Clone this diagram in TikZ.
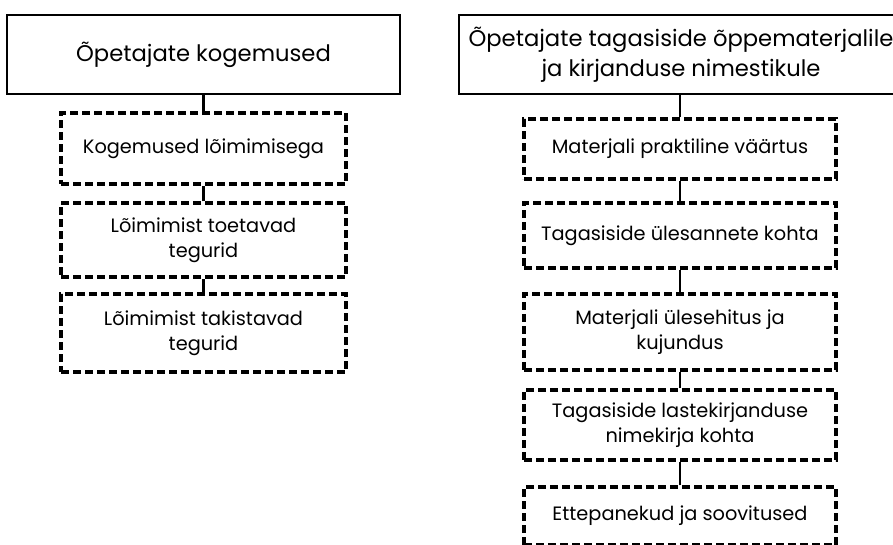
\documentclass[tikz,border=0pt]{standalone}
\usepackage{fontspec}
\setmainfont{Poppins}
\begin{document}
\begin{tikzpicture}[x=0.75pt,y=-0.75pt,
  topbox/.style={draw=black, line width=1.2pt, inner sep=0pt, align=center, font=\fontsize{17}{22.5}\selectfont},
  subbox/.style={draw=black, line width=2.6pt, dash pattern=on 6pt off 3pt, inner sep=0pt, align=center, font=\fontsize{14.5}{19}\selectfont},
  link/.style={draw=black, line width=1.8pt}]
\clip (0,0) rectangle (893,544);
\fill[white] (0,0) rectangle (893,544);
% left column
\node[topbox, minimum width=294.75pt, minimum height=59.25pt] (LT) at (203.5,54.5) {Õpetajate kogemused};
\node[subbox, minimum width=213.75pt, minimum height=53.25pt] (L1) at (203.5,148.5) {Kogemused lõimimisega};
\node[subbox, minimum width=213.75pt, minimum height=55.5pt] (L2) at (203.5,240) {Lõimimist toetavad\\tegurid};
\node[subbox, minimum width=213.75pt, minimum height=58.5pt] (L3) at (203.5,333) {Lõimimist takistavad\\tegurid};
% right column
\node[topbox, minimum width=333pt, minimum height=59.25pt] (RT) at (681,54.5) {Õpetajate tagasiside õppematerjalile\\ja kirjanduse nimestikule};
\node[subbox, minimum width=234pt, minimum height=45pt] (R1) at (680,149) {Materjali praktiline väärtus};
\node[subbox, minimum width=234pt, minimum height=48.75pt] (R2) at (680,235.5) {Tagasiside ülesannete kohta};
\node[subbox, minimum width=234pt, minimum height=57pt] (R3) at (680,332) {Materjali ülesehitus ja\\kujundus};
\node[subbox, minimum width=234pt, minimum height=52.5pt] (R4) at (680,425) {Tagasiside lastekirjanduse\\nimekirja kohta};
\node[subbox, minimum width=234pt, minimum height=43.5pt] (R5) at (680,516) {Ettepanekud ja soovitused};
% connectors
\draw[link] (L1.north) -- (L1.north |- LT.south);
\draw[link] (L2.north) -- (L1.south);
\draw[link] (L3.north) -- (L2.south);
\draw[link] (R1.north) -- (R1.north |- RT.south);
\draw[link] (R2.north) -- (R1.south);
\draw[link] (R3.north) -- (R2.south);
\draw[link] (R4.north) -- (R3.south);
\draw[link] (R5.north) -- (R4.south);
\end{tikzpicture}
\end{document}
